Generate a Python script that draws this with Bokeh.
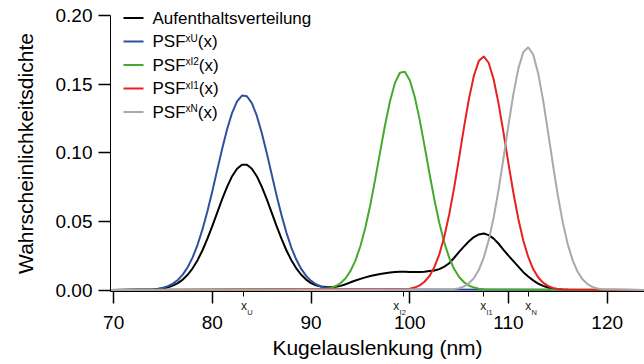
from bokeh.plotting import figure
from bokeh.models import Range1d, FixedTicker, PrintfTickFormatter, Label, BoxAnnotation
from bokeh.embed import file_html
from bokeh.resources import INLINE

# ---------------- data ----------------
aufenthalt_x = [69.7,
    74.0, 74.5, 75.0, 75.5, 76.0, 76.5, 77.0, 77.5, 78.0, 78.5,
    79.0, 79.5, 80.0, 80.5, 81.0, 81.5, 82.0, 82.5, 83.0, 83.5,
    84.0, 84.5, 85.0, 85.5, 86.0, 86.5, 87.0, 87.5, 88.0, 88.5,
    89.0, 89.5, 90.0, 90.5, 91.0, 91.5, 92.0, 92.5, 93.0, 93.5,
    94.0, 94.5, 95.0, 95.5, 96.0, 96.5, 97.0, 97.5, 98.0, 98.5,
    99.0, 99.5, 100.0, 100.5, 101.0, 101.5, 102.0, 102.5, 103.0, 103.5,
    104.0, 104.5, 105.0, 105.5, 106.0, 106.5, 107.0, 107.5, 108.0, 108.5,
    109.0, 109.5, 110.0, 110.5, 111.0, 111.5, 112.0, 112.5, 113.0, 113.5,
    114.0, 114.5, 115.0, 115.5, 116.0,
    124.0]
aufenthalt_y = [0.0,
    0.00039, 0.00069, 0.00119, 0.00199, 0.00321, 0.00501, 0.00759, 0.01112, 0.01579, 0.02173,
    0.02895, 0.03736, 0.04671, 0.05655, 0.06633, 0.07535, 0.08292, 0.08838, 0.09123, 0.09123,
    0.08838, 0.08292, 0.07535, 0.06633, 0.05655, 0.04671, 0.03736, 0.02895, 0.02173, 0.01579,
    0.01112, 0.00759, 0.00501, 0.00340, 0.00250, 0.00210, 0.00200, 0.00230, 0.00300, 0.00420,
    0.00560, 0.00690, 0.00810, 0.00920, 0.01020, 0.01100, 0.01160, 0.01220, 0.01270, 0.01310,
    0.01330, 0.01330, 0.01320, 0.01310, 0.01310, 0.01330, 0.01380, 0.01420, 0.01520, 0.01700,
    0.01950, 0.02350, 0.02780, 0.03180, 0.03550, 0.03860, 0.04050, 0.04120, 0.04000, 0.03740,
    0.03370, 0.02930, 0.02500, 0.02100, 0.01700, 0.01300, 0.00980, 0.00700, 0.00470, 0.00300,
    0.00180, 0.00100, 0.00060, 0.00030, 0.00010,
    0.0]

psf_u_x = [69.7,
    74.0, 74.5, 75.0, 75.5, 76.0, 76.5, 77.0, 77.5, 78.0, 78.5,
    79.0, 79.5, 80.0, 80.5, 81.0, 81.5, 82.0, 82.5, 83.0, 83.5,
    84.0, 84.5, 85.0, 85.5, 86.0, 86.5, 87.0, 87.5, 88.0, 88.5,
    89.0, 89.5, 90.0, 90.5, 91.0, 91.5, 92.0, 92.5,
    124.0]
psf_u_y = [0.0,
    0.00053, 0.00095, 0.00167, 0.00282, 0.00461, 0.00730, 0.01118, 0.01657, 0.02376, 0.03296,
    0.04424, 0.05744, 0.07215, 0.08770, 0.10311, 0.11731, 0.12911, 0.13747, 0.14163, 0.14116,
    0.13612, 0.12699, 0.11462, 0.10008, 0.08456, 0.06912, 0.05466, 0.04182, 0.03096, 0.02217,
    0.01536, 0.01029, 0.00668, 0.00419, 0.00254, 0.00149, 0.00085, 0.00047,
    0.0]

psf_i2_x = [69.7,
    91.5, 92.0, 92.5, 93.0, 93.5, 94.0, 94.5, 95.0, 95.5, 96.0,
    96.5, 97.0, 97.5, 98.0, 98.5, 99.0, 99.5, 100.0, 100.5, 101.0,
    101.5, 102.0, 102.5, 103.0, 103.5, 104.0, 104.5, 105.0, 105.5, 106.0,
    106.5, 107.0, 107.5,
    124.0]
psf_i2_y = [0.0,
    0.00081, 0.00156, 0.00288, 0.00509, 0.00860, 0.01392, 0.02159, 0.03204, 0.04554, 0.06198,
    0.08076, 0.10077, 0.12039, 0.13774, 0.15089, 0.15826, 0.15895, 0.15286, 0.14076, 0.12411,
    0.10479, 0.08471, 0.06557, 0.04860, 0.03450, 0.02345, 0.01525, 0.00950, 0.00567, 0.00324,
    0.00177, 0.00093, 0.00047,
    0.0]

psf_i1_x = [69.7,
    100.0, 100.5, 101.0, 101.5, 102.0, 102.5, 103.0, 103.5, 104.0, 104.5,
    105.0, 105.5, 106.0, 106.5, 107.0, 107.5, 108.0, 108.5, 109.0, 109.5,
    110.0, 110.5, 111.0, 111.5, 112.0, 112.5, 113.0, 113.5, 114.0, 114.5,
    115.0, 115.5,
    124.0]
psf_i1_y = [0.0,
    0.00090, 0.00177, 0.00334, 0.00600, 0.01027, 0.01679, 0.02619, 0.03896, 0.05526, 0.07477,
    0.09650, 0.11882, 0.13953, 0.15628, 0.16697, 0.17016, 0.16540, 0.15335, 0.13563, 0.11441,
    0.09206, 0.07065, 0.05172, 0.03612, 0.02405, 0.01528, 0.00926, 0.00535, 0.00295, 0.00155,
    0.00078, 0.00037,
    0.0]

psf_n_x = [69.7,
    104.5, 105.0, 105.5, 106.0, 106.5, 107.0, 107.5, 108.0, 108.5, 109.0,
    109.5, 110.0, 110.5, 111.0, 111.5, 112.0, 112.5, 113.0, 113.5, 114.0,
    114.5, 115.0, 115.5, 116.0, 116.5, 117.0, 117.5, 118.0, 118.5, 119.0,
    119.5,
    124.0]
psf_n_y = [0.0,
    0.00063, 0.00132, 0.00260, 0.00488, 0.00869, 0.01473, 0.02372, 0.03633, 0.05289, 0.07317,
    0.09622, 0.12028, 0.14292, 0.16142, 0.17331, 0.17686, 0.17156, 0.15818, 0.13864, 0.11550,
    0.09146, 0.06885, 0.04927, 0.03351, 0.02165, 0.01330, 0.00777, 0.00432, 0.00228, 0.00114,
    0.00054,
    0.0]

x_ticks = [70, 80, 90, 100, 110, 120]
y_ticks = [0.00, 0.05, 0.10, 0.15, 0.20]
marker_pos = [83.2, 99.35, 107.45, 112.0]
marker_sub = ["U", "I2", "I1", "N"]

legend_main = ["Aufenthaltsverteilung", "PSF", "PSF", "PSF", "PSF"]
legend_sup = ["", "xU", "xI2", "xI1", "xN"]
legend_tail = ["", "(x)", "(x)", "(x)", "(x)"]

# ---------------- style / layout ----------------
C_BLACK = "#000000"
C_BLUE = "#2f4f9f"
C_GREEN = "#45a92b"
C_RED = "#e8201f"
C_GREY = "#a9a9a9"
FONT = "Liberation Sans"

X_LO, X_HI = 69.68, 123.78      # extent of the x axis line
Y_LO, Y_HI = -0.0011, 0.2       # extent of the y axis line

p = figure(width=644, height=364, output_backend="svg", toolbar_location=None,
           x_range=Range1d(58.535, 123.78), y_range=Range1d(-0.05428, 0.21093),
           min_border=0, min_border_left=0, min_border_right=0,
           min_border_top=0, min_border_bottom=0)
p.outline_line_color = None
p.background_fill_color = "white"
p.border_fill_color = "white"
p.xgrid.visible = False
p.ygrid.visible = False

p.line(aufenthalt_x, aufenthalt_y, line_color=C_BLACK, line_width=2)
p.line(psf_u_x, psf_u_y, line_color=C_BLUE, line_width=2)
p.line(psf_i2_x, psf_i2_y, line_color=C_GREEN, line_width=2)
p.line(psf_i1_x, psf_i1_y, line_color=C_RED, line_width=2)
p.line(psf_n_x, psf_n_y, line_color=C_GREY, line_width=2)

# axes (placed at fixed data locations)
xa = p.xaxis[0]
xa.fixed_location = Y_LO
xa.bounds = (X_LO, X_HI)
xa.ticker = FixedTicker(ticks=x_ticks, minor_ticks=marker_pos)
xa.axis_label = "Kugelauslenkung (nm)"
ya = p.yaxis[0]
ya.fixed_location = X_LO
ya.bounds = (Y_LO, Y_HI)
ya.ticker = FixedTicker(ticks=y_ticks, minor_ticks=[])
ya.formatter = PrintfTickFormatter(format="%.2f")
ya.axis_label = "Wahrscheinlichkeitsdichte"
for ax in (xa, ya):
    ax.axis_line_color = "black"
    ax.axis_line_width = 1
    ax.major_tick_line_color = "black"
    ax.major_tick_line_width = 1.5
    ax.major_tick_in = 0
    ax.major_tick_out = 12
    ax.minor_tick_in = 0
    ax.minor_tick_out = 5
    ax.minor_tick_line_color = "black"
    ax.major_label_text_font = FONT
    ax.major_label_text_font_size = "19px"
    ax.major_label_text_color = "black"
    ax.axis_label_text_font = FONT
    ax.axis_label_text_font_size = "21px"
    ax.axis_label_text_font_style = "normal"
    ax.axis_label_text_color = "black"
xa.major_label_standoff = 12
xa.axis_label_standoff = 4
ya.major_label_standoff = 6
ya.axis_label_standoff = 16

# marker labels below the x axis (x with subscript); screen y measured from canvas bottom
marker_shift = [0, -7, 0, 0]
for pos, sub, sh in zip(marker_pos, marker_sub, marker_shift):
    p.add_layout(Label(x=pos, y=59, x_units="data", y_units="screen", text="x",
                       x_offset=sh, text_align="center", text_baseline="alphabetic",
                       text_font=FONT, text_font_size="12px", text_color="#222222"))
    p.add_layout(Label(x=pos, y=52.3, x_units="data", y_units="screen", text=sub,
                       x_offset=sh + 3.2, text_align="left", text_baseline="alphabetic",
                       text_font=FONT, text_font_size="7.5px", text_color="#222222"))

# legend (manual, screen units)
leg_colors = [C_BLACK, C_BLUE, C_GREEN, C_RED, C_GREY]
leg_sup_w = [0, 12.3, 13.3, 13.3, 12.3]
for i, (m, s, t, c, sw) in enumerate(zip(legend_main, legend_sup, legend_tail, leg_colors, leg_sup_w)):
    fy = 346.5 - 23.5 * i
    p.add_layout(BoxAnnotation(left=123, right=143, bottom=fy - 1, top=fy + 1,
                               left_units="screen", right_units="screen",
                               bottom_units="screen", top_units="screen",
                               fill_color=c, fill_alpha=1.0, line_color=None))
    p.add_layout(Label(x=152, y=fy, x_units="screen", y_units="screen", text=m,
                       text_baseline="middle", text_font=FONT, text_font_size="17px",
                       text_color="black"))
    if s:
        p.add_layout(Label(x=185, y=fy + 3.5, x_units="screen", y_units="screen", text=s,
                           text_baseline="middle", text_font=FONT, text_font_size="10px",
                           text_color="black"))
        p.add_layout(Label(x=185 + sw, y=fy, x_units="screen", y_units="screen", text=t,
                           text_baseline="middle", text_font=FONT, text_font_size="17px",
                           text_color="black"))

open("out.html", "w").write(file_html(p, INLINE))
